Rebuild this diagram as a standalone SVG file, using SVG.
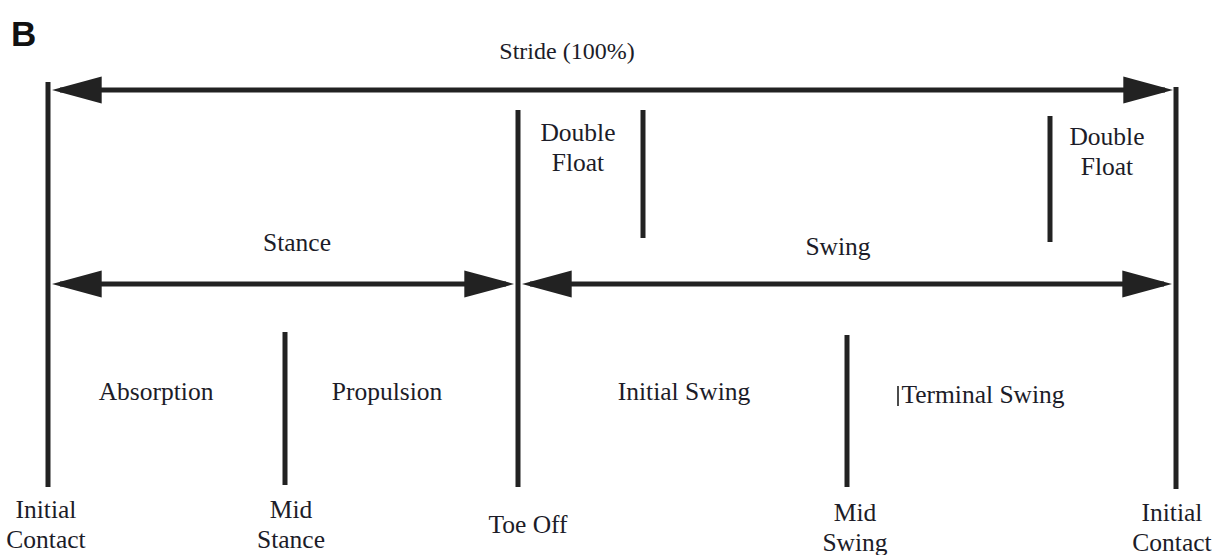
<svg xmlns="http://www.w3.org/2000/svg" width="1219" height="555" viewBox="0 0 1219 555">
<style>
.t{font-family:"Liberation Serif","Times New Roman",serif;font-size:25.5px;fill:#1c1c28;text-anchor:middle}
.v{stroke:#222;stroke-width:5;fill:none}
.a{stroke:#222;stroke-width:5;fill:none;marker-end:url(#ah);marker-start:url(#ah)}
</style>
<defs>
<marker id="ah" markerUnits="userSpaceOnUse" markerWidth="50" markerHeight="28" viewBox="0 0 48 26" refX="40" refY="13" orient="auto-start-reverse">
<path d="M0,0 L48,13 L0,26 Z" fill="#222"/>
</marker>
</defs>
<rect width="1219" height="555" fill="#fff"/>
<text x="11" y="46" font-family="Liberation Sans,Arial,sans-serif" font-weight="bold" font-size="35" fill="#111">B</text>
<g id="connectors">
<line class="a" x1="60" y1="90" x2="1165" y2="90"/>
<line class="a" x1="60" y1="284" x2="506" y2="284"/>
<line class="a" x1="530" y1="284" x2="1164" y2="284"/>
</g>
<g id="initial-contact-left"><line class="v" x1="48" y1="82" x2="48" y2="487"/><text class="t" x="46" y="518">Initial</text><text class="t" x="46" y="548">Contact</text></g>
<g id="mid-stance"><line class="v" x1="285" y1="332" x2="285" y2="485"/><text class="t" x="291" y="518">Mid</text><text class="t" x="291" y="548">Stance</text></g>
<g id="toe-off"><line class="v" x1="518" y1="110" x2="518" y2="487"/><text class="t" x="528" y="533">Toe Off</text></g>
<g id="mid-swing"><line class="v" x1="847" y1="335" x2="847" y2="487"/><text class="t" x="855" y="521">Mid</text><text class="t" x="855" y="551">Swing</text></g>
<g id="initial-contact-right"><line class="v" x1="1176" y1="87" x2="1176" y2="489"/><text class="t" x="1172" y="521">Initial</text><text class="t" x="1172" y="551">Contact</text></g>
<g id="double-float-left"><line class="v" x1="643" y1="110" x2="643" y2="238"/><text class="t" x="578" y="141">Double</text><text class="t" x="578" y="171">Float</text></g>
<g id="double-float-right"><line class="v" x1="1050" y1="116" x2="1050" y2="242"/><text class="t" x="1107" y="145">Double</text><text class="t" x="1107" y="175">Float</text></g>
<g id="labels">
<text class="t" x="567" y="59" style="font-size:24px">Stride (100%)</text>
<text class="t" x="297" y="251">Stance</text>
<text class="t" x="838" y="255">Swing</text>
<text class="t" x="156" y="400">Absorption</text>
<text class="t" x="387" y="400">Propulsion</text>
<text class="t" x="684" y="400">Initial Swing</text>
<text class="t" x="983" y="403">Terminal Swing</text>
<line x1="898" y1="386" x2="898" y2="406" stroke="#111" stroke-width="1.5"/>
</g>
</svg>
